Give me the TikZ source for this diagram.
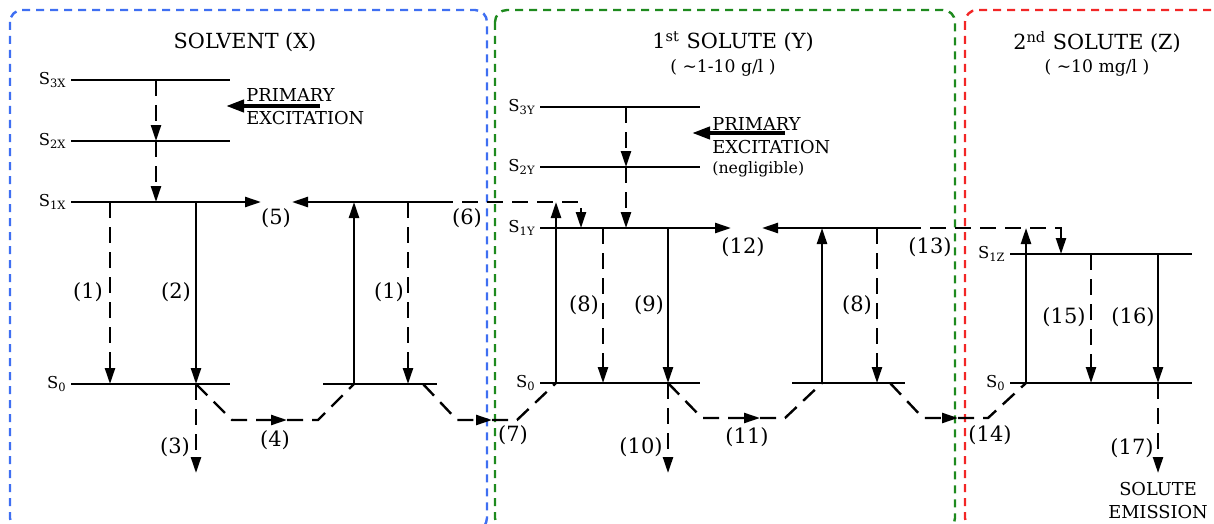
\documentclass[tikz,border=0pt]{standalone}
\usepackage{fontspec}
\setmainfont{DejaVu Serif}
\usetikzlibrary{arrows.meta,positioning,calc}
\definecolor{frameX}{HTML}{3F6FF2}
\definecolor{frameY}{HTML}{1E8A1E}
\definecolor{frameZ}{HTML}{F22626}
\tikzset{
  lvl/.style={line width=1.2pt},
  ar/.style={-{Triangle[length=8pt,width=5pt]},line width=1.2pt},
  dln/.style={line width=1.2pt,dash pattern=on 8pt off 4.5pt},
  dar/.style={ar,dash pattern=on 8pt off 4.5pt},
  pex/.style={-{Triangle[length=9pt,width=6pt]},line width=2pt},
  frame/.style={line width=1.2pt,dash pattern=on 4pt off 3pt,rounded corners=6pt},
  num/.style={font=\fontsize{10.5}{12}\selectfont,inner sep=1pt},
  slab/.style={font=\fontsize{8.2}{9}\selectfont,anchor=east,inner sep=2pt},
  ttl/.style={font=\fontsize{10.4}{12}\selectfont,inner sep=1pt},
  sub/.style={font=\fontsize{8.6}{10}\selectfont,inner sep=1pt},
  ptxt/.style={font=\fontsize{8.9}{11}\selectfont,anchor=base west,inner sep=0pt}
}
\begin{document}
\begin{tikzpicture}[x=0.5pt,y=-0.5pt]
\useasboundingbox (0,0) rectangle (1214,524);
\clip (0,0) rectangle (1214,524);
% frames
\draw[frame,frameX] (10,10) rectangle (487,530);
\draw[frame,frameY] (495,10) rectangle (955,530);
\draw[frame,frameZ] (965,10) rectangle (1240,530);
\node[ttl] (tX) at (245,42) {SOLVENT (X)};
\node[ttl] (tY) at (733,42) {1\textsuperscript{st} SOLUTE (Y)};
\node[sub] (cY) at (723,68) {( \textasciitilde1-10 g/l )};
\node[ttl] (tZ) at (1097,42) {2\textsuperscript{nd} SOLUTE (Z)};
\node[sub] (cZ) at (1097,68) {( \textasciitilde10 mg/l )};

% solvent X
\coordinate (X3) at (71,80);   \coordinate (X3e) at (230,80);
\coordinate (X2) at (71,141);  \coordinate (X2e) at (230,141);
\coordinate (X1) at (71,202);  \coordinate (X1e) at (230,202);
\coordinate (X0) at (71,384);  \coordinate (X0e) at (230,384);
\coordinate (XB1) at (323,202); \coordinate (XB1e) at (437,202);
\coordinate (XB0) at (323,384); \coordinate (XB0e) at (437,384);
\foreach \a in {X3,X2,X1,X0,XB1,XB0} \draw[lvl] (\a) -- (\a e);
\node[slab] (lX3) at (X3) {S\textsubscript{3X}};
\node[slab] (lX2) at (X2) {S\textsubscript{2X}};
\node[slab] (lX1) at (X1) {S\textsubscript{1X}};
\node[slab] (lX0) at (X0) {S\textsubscript{0}};
\coordinate (cXa) at (156,0); \coordinate (cX1) at (110,0);
\coordinate (cX2) at (196,0); \coordinate (cXu) at (354,0);
\coordinate (cX1b) at (408,0); \coordinate (cX7) at (423,0);
\draw[dar] (cXa |- X3) -- (cXa |- X2);
\draw[dar] (cXa |- X2) -- (cXa |- X1);
\draw[dar] (cX1 |- X1) -- (cX1 |- X0);
\draw[ar] (cX2 |- X1) -- (cX2 |- X0);
\coordinate (eX3) at (196,473);
\draw[dar] (cX2 |- X0) -- (eX3);
\coordinate (p4a) at (232,420); \coordinate (p4m) at (287,420); \coordinate (p4b) at (318,420);
\draw[dar] (cX2 |- X0) -- (p4a) -- (p4m);
\draw[dln] (p4m) -- (p4b) -- (cXu |- XB0);
\draw[ar] (cXu |- XB0) -- (cXu |- XB1);
\draw[dar] (cX1b |- XB1) -- (cX1b |- XB0);
\coordinate (p5a) at (261,202); \coordinate (p5b) at (292,202);
\draw[dar] (X1e) -- (p5a);
\draw[dar] (XB1) -- (p5b);
\coordinate (pXs) at (320,106); \coordinate (pXe) at (226,106);
\draw[pex] (pXs) -- (pXe);
\node[ptxt] (pXa) at (246,102) {PRIMARY};
\node[ptxt] (pXb) at (246,125) {EXCITATION};

% 1st solute Y
\coordinate (Y3) at (540,107);  \coordinate (Y3e) at (700,107);
\coordinate (Y2) at (540,167);  \coordinate (Y2e) at (700,167);
\coordinate (Y1) at (540,228);  \coordinate (Y1e) at (700,228);
\coordinate (Y0) at (540,383);  \coordinate (Y0e) at (700,383);
\coordinate (YB1) at (792,228); \coordinate (YB1e) at (905,228);
\coordinate (YB0) at (792,383); \coordinate (YB0e) at (905,383);
\foreach \a in {Y3,Y2,Y1,Y0,YB1,YB0} \draw[lvl] (\a) -- (\a e);
\node[slab] (lY3) at (Y3) {S\textsubscript{3Y}};
\node[slab] (lY2) at (Y2) {S\textsubscript{2Y}};
\node[slab] (lY1) at (Y1) {S\textsubscript{1Y}};
\node[slab] (lY0) at (Y0) {S\textsubscript{0}};
\coordinate (cYu) at (556,0); \coordinate (cY6) at (581,0);
\coordinate (cYa) at (626,0); \coordinate (cY8) at (603,0);
\coordinate (cY9) at (668,0); \coordinate (cYu2) at (822,0);
\coordinate (cY8b) at (877,0); \coordinate (cY14) at (890,0);
% transfer X -> Y
\draw[dar] (XB1e) -- (cY6 |- XB1) -- (cY6 |- Y1);
\draw[ar] (cYu |- Y0) -- (cYu |- XB1);
\coordinate (p7a) at (457,420); \coordinate (p7m) at (492,420); \coordinate (p7b) at (517,420);
\draw[dar] (cX7 |- XB0) -- (p7a) -- (p7m);
\draw[dln] (p7m) -- (p7b) -- (cYu |- Y0);
\draw[dar] (cYa |- Y3) -- (cYa |- Y2);
\draw[dar] (cYa |- Y2) -- (cYa |- Y1);
\draw[dar] (cY8 |- Y1) -- (cY8 |- Y0);
\draw[ar] (cY9 |- Y1) -- (cY9 |- Y0);
\coordinate (eY10) at (668,473);
\draw[dar] (cY9 |- Y0) -- (eY10);
\coordinate (p11a) at (702,418); \coordinate (p11m) at (760,418); \coordinate (p11b) at (785,418);
\draw[dar] (cY9 |- Y0) -- (p11a) -- (p11m);
\draw[dln] (p11m) -- (p11b) -- (cYu2 |- YB0);
\draw[ar] (cYu2 |- YB0) -- (cYu2 |- YB1);
\draw[dar] (cY8b |- YB1) -- (cY8b |- YB0);
\coordinate (p12a) at (731,228); \coordinate (p12b) at (762,228);
\draw[dar] (Y1e) -- (p12a);
\draw[dar] (YB1) -- (p12b);
\coordinate (pYs) at (785,133); \coordinate (pYe) at (692,133);
\draw[pex] (pYs) -- (pYe);
\node[ptxt] (pYa) at (712,130) {PRIMARY};
\node[ptxt] (pYb) at (712,153) {EXCITATION};
\node[ptxt,font=\fontsize{7.9}{10}\selectfont] (pYc) at (712,173) {(negligible)};

% 2nd solute Z
\coordinate (Z1) at (1010,254); \coordinate (Z1e) at (1192,254);
\coordinate (Z0) at (1010,383); \coordinate (Z0e) at (1192,383);
\foreach \a in {Z1,Z0} \draw[lvl] (\a) -- (\a e);
\node[slab] (lZ1) at (Z1) {S\textsubscript{1Z}};
\node[slab] (lZ0) at (Z0) {S\textsubscript{0}};
\coordinate (cZ13) at (1061,0); \coordinate (cZu) at (1026,0);
\coordinate (cZ15) at (1091,0); \coordinate (cZ16) at (1158,0);
\draw[dar] (YB1e) -- (cZ13 |- YB1) -- (cZ13 |- Z1);
\draw[ar] (cZu |- Z0) -- (cZu |- YB1);
\coordinate (p14a) at (923,418); \coordinate (p14m) at (958,418); \coordinate (p14b) at (988,418);
\draw[dar] (cY14 |- YB0) -- (p14a) -- (p14m);
\draw[dln] (p14m) -- (p14b) -- (cZu |- Z0);
\draw[dar] (cZ15 |- Z1) -- (cZ15 |- Z0);
\draw[ar] (cZ16 |- Z1) -- (cZ16 |- Z0);
\coordinate (eZ17) at (1158,473);
\draw[dar] (cZ16 |- Z0) -- (eZ17);
\node[ptxt,anchor=base] (emA) at (1158,495) {SOLUTE};
\node[ptxt,anchor=base] (emB) at (1158,518) {EMISSION};

% process numbers
\node[num] (n1) at (88,292) {(1)};
\node[num] (n2) at (176,292) {(2)};
\node[num] (n3) at (175,447) {(3)};
\node[num] (n4) at (275,440) {(4)};
\node[num] (n5) at (276,218) {(5)};
\node[num] (n1b) at (389,292) {(1)};
\node[num] (n6) at (467,218) {(6)};
\node[num] (n7) at (513,435) {(7)};
\node[num] (n8) at (584,305) {(8)};
\node[num] (n9) at (649,305) {(9)};
\node[num] (n10) at (641,447) {(10)};
\node[num] (n11) at (747,437) {(11)};
\node[num] (n12) at (743,247) {(12)};
\node[num] (n8b) at (857,305) {(8)};
\node[num] (n13) at (930,247) {(13)};
\node[num] (n14) at (990,435) {(14)};
\node[num] (n15) at (1064,317) {(15)};
\node[num] (n16) at (1133,317) {(16)};
\node[num] (n17) at (1132,448) {(17)};
\end{tikzpicture}
\end{document}
